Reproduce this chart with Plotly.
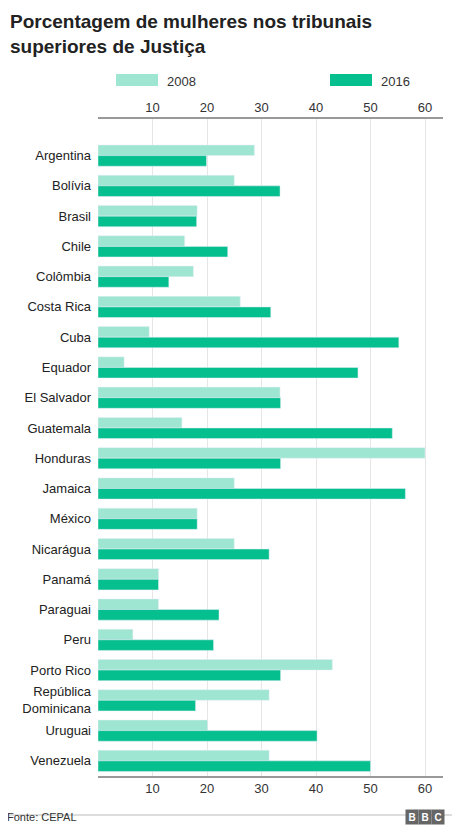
import plotly.graph_objects as go

countries = ["Argentina", "Bolívia", "Brasil", "Chile", "Colômbia", "Costa Rica", "Cuba",
             "Equador", "El Salvador", "Guatemala", "Honduras", "Jamaica", "México",
             "Nicarágua", "Panamá", "Paraguai", "Peru", "Porto Rico",
             "República<br>Dominicana", "Uruguai", "Venezuela"]
v2008 = [28.7, 25.0, 18.2, 15.9, 17.5, 26.1, 9.4, 4.8, 33.4, 15.4, 60.0, 25.0, 18.2,
         25.0, 11.1, 11.1, 6.4, 43.0, 31.4, 20.1, 31.4]
v2016 = [19.9, 33.4, 18.1, 23.8, 13.0, 31.7, 55.2, 47.7, 33.5, 54.0, 33.5, 56.4, 18.2,
         31.4, 11.1, 22.2, 21.2, 33.5, 17.9, 40.2, 50.0]
ticks = [10, 20, 30, 40, 50, 60]

OFF = 8  # page body margin
W, H = 460 - OFF, 837 - OFF
L, R, T, B = 98 - OFF, 17, 119 - OFF, 61
pw, ph = W - L - R, H - T - B
def px(x): return (x - OFF - L) / pw
def py(y): return (H - B - (y - OFF)) / ph

C08, C16 = "#9ee6d1", "#05bf8f"
fig = go.Figure()
fig.add_trace(go.Bar(y=countries, x=v2008, orientation="h", marker_color=C08, name="2008", showlegend=False))
fig.add_trace(go.Bar(y=countries, x=v2016, orientation="h", marker_color=C16, name="2016", showlegend=False))
fig.add_trace(go.Scatter(x=[0], y=[countries[0]], xaxis="x2", mode="markers",
                         marker_opacity=0, showlegend=False, hoverinfo="skip"))

font = "Liberation Sans, Arial, sans-serif"
axcommon = dict(range=[0, 63.3], tickvals=ticks, showgrid=True, gridcolor="#e6e6e6",
                tickfont=dict(size=13, color="#333", family=font), zeroline=False,
                showline=True, linecolor="#999", linewidth=1.5, ticks="", fixedrange=True,
                automargin=False)
fig.update_layout(
    width=W, height=H, margin=dict(l=L, r=R, t=T, b=B),
    paper_bgcolor="white", plot_bgcolor="white",
    barmode="group", bargap=0.3, bargroupgap=0,
    xaxis=dict(side="top", **axcommon),
    xaxis2=dict(side="bottom", overlaying="x", matches="x", **axcommon),
    yaxis=dict(autorange="reversed", showgrid=False, ticks="", ticklen=0, automargin=False,
               ticklabelstandoff=6,
               tickfont=dict(size=13, color="#222", family=font), fixedrange=True),
    font=dict(family=font),
)
shapes = [
    dict(type="rect", xref="paper", yref="paper", x0=px(116), x1=px(158), y0=py(86), y1=py(74),
         fillcolor=C08, line_width=0),
    dict(type="rect", xref="paper", yref="paper", x0=px(330), x1=px(372), y0=py(86), y1=py(74),
         fillcolor=C16, line_width=0),
    dict(type="line", xref="paper", yref="paper", x0=px(0), x1=px(460), y0=py(815), y1=py(815),
         line=dict(color="#bbb", width=1)),
]
ann = [
    dict(text="<b>Porcentagem de mulheres nos tribunais<br>superiores de Justiça</b>", x=px(8), y=py(9),
         xref="paper", yref="paper", xanchor="left", yanchor="top", showarrow=False, align="left",
         font=dict(size=19, color="#222", family=font)),
    dict(text="2008", x=px(165), y=py(72), xref="paper", yref="paper", xanchor="left", showarrow=False,
         font=dict(size=13, color="#333")),
    dict(text="2016", x=px(379), y=py(72), xref="paper", yref="paper", xanchor="left", showarrow=False,
         font=dict(size=13, color="#333")),
    dict(text="Fonte: CEPAL", x=px(5), y=py(825), xref="paper", yref="paper", xanchor="left", showarrow=False,
         font=dict(size=11, color="#333")),
]
for i, ch in enumerate("BBC"):
    ann.append(dict(text="<b>%s</b>" % ch, x=px(419 + i * 13), y=py(825), xref="paper", yref="paper",
                    showarrow=False, bgcolor="#666", width=10, height=12,
                    font=dict(size=10, color="white")))
fig.update_layout(shapes=shapes, annotations=ann)
fig.write_html("out.html")
